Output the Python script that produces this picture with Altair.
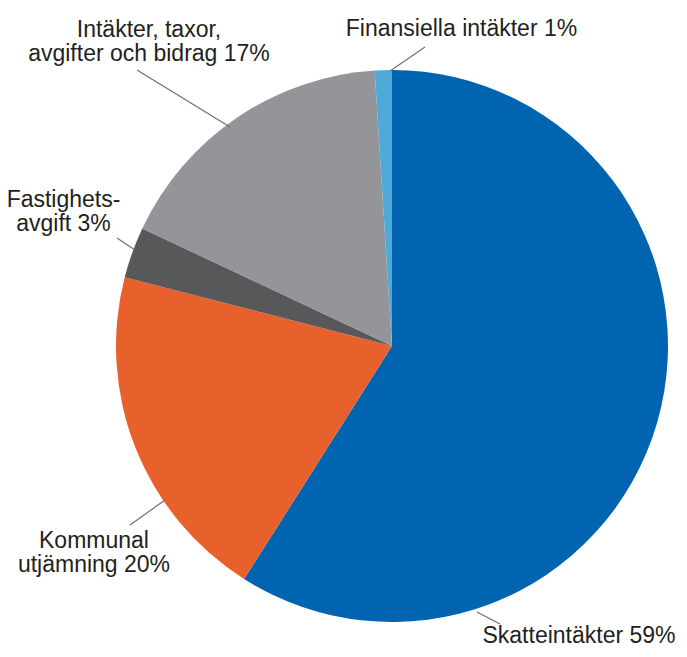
import altair as alt
import pandas as pd

# Data
categories = ["Skatteintäkter", "Kommunal utjämning", "Fastighetsavgift",
              "Intäkter, taxor, avgifter och bidrag", "Finansiella intäkter"]
shares = [59, 20, 3, 17, 1]
colors = ["#0064B0", "#E8612C", "#58585A", "#939598", "#4FA9D9"]

label_lines = [
    ["Skatteintäkter 59%"],
    ["Kommunal", "utjämning 20%"],
    ["Fastighets-", "avgift 3%"],
    ["Intäkter, taxor,", "avgifter och bidrag 17%"],
    ["Finansiella intäkter 1%"],
]

# Layout (pixel positions of annotations)
W, H = 671, 641
CX, CY, R = 384, 338, 276
label_x = [571, 86, 55.5, 141, 453.5]
label_y = [635, 540, 199, 29, 28]
line_x1 = [469, 122, 109, 129, 417]
line_y1 = [604, 517, 230, 62, 39]
line_x2 = [492, 157, 127, 222, 382]
line_y2 = [616, 492, 242, 119, 63]

pie_df = pd.DataFrame({"cat": categories, "val": shares, "idx": list(range(len(shares)))})
lab_df = pd.DataFrame({"text": label_lines, "x": label_x, "y": label_y})
line_df = pd.DataFrame({"x": line_x1, "y": line_y1, "x2": line_x2, "y2": line_y2})

xs = alt.Scale(domain=[0, W], range=[0, W])
ys = alt.Scale(domain=[0, H], range=[0, H])

pie = alt.Chart(pie_df).mark_arc(radius=R, stroke=None).encode(
    theta=alt.Theta("val:Q", stack=True),
    order=alt.Order("idx:Q"),
    color=alt.Color("cat:N", scale=alt.Scale(domain=categories, range=colors), legend=None),
    x=alt.value(CX),
    y=alt.value(CY),
)

lines = alt.Chart(line_df).mark_rule(color="#6d6e70", strokeWidth=1.2).encode(
    x=alt.X("x:Q", scale=xs, axis=None),
    y=alt.Y("y:Q", scale=ys, axis=None),
    x2="x2:Q",
    y2="y2:Q",
)

labels = alt.Chart(lab_df).mark_text(
    font="Liberation Sans", fontSize=23, lineHeight=24, align="center",
    baseline="alphabetic", color="#231F20"
).encode(
    x=alt.X("x:Q", scale=xs, axis=None),
    y=alt.Y("y:Q", scale=ys, axis=None),
    text="text",
)

chart = alt.layer(pie, lines, labels).properties(
    width=W, height=H, padding=0, autosize=alt.AutoSizeParams(type="none")
).configure_view(stroke=None)

chart.save("out.html", embed_options={"renderer": "svg", "actions": False})
